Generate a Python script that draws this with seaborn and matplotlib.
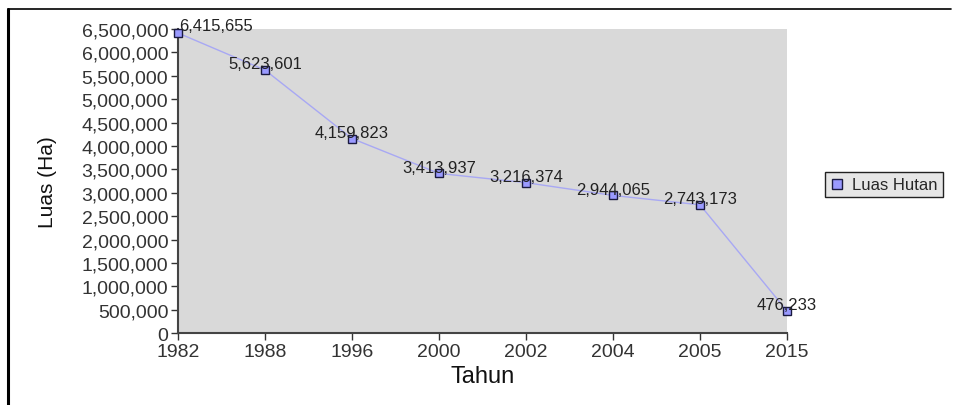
import matplotlib
matplotlib.use("Agg")
import matplotlib.pyplot as plt
import seaborn as sns
import pandas as pd
from matplotlib.lines import Line2D
from matplotlib.ticker import FuncFormatter, MultipleLocator

# data
years = ["1982", "1988", "1996", "2000", "2002", "2004", "2005", "2015"]
luas_hutan = [6415655, 5623601, 4159823, 3413937, 3216374, 2944065, 2743173, 476233]
series_name = "Luas Hutan"

df = pd.DataFrame({"Tahun": years, "Luas": luas_hutan, "Seri": series_name})

sns.set_style("white")
plt.rcParams["font.family"] = ["Liberation Sans", "DejaVu Sans"]

fig = plt.figure(figsize=(9.59, 4.06), dpi=100)
ax = fig.add_axes([0.1856, 0.177, 0.635, 0.749])
ax.set_facecolor("#d9d9d9")

sns.lineplot(data=df, x="Tahun", y="Luas", hue="Seri", sort=False,
             palette=["#a8a8f4"], linewidth=1, marker="s", markersize=6,
             markerfacecolor="#9a9aff", markeredgecolor="#1a1a40",
             markeredgewidth=1, ax=ax, legend=False, clip_on=False, zorder=3)

# value labels
for i, (yr, val) in enumerate(zip(years, luas_hutan)):
    txt = f"{val:,}"
    if i == 0:
        ax.annotate(txt, (i, val), xytext=(1, 0), textcoords="offset points",
                    ha="left", va="bottom", fontsize=12, color="#222222")
    else:
        ax.annotate(txt, (i, val), xytext=(0, -1), textcoords="offset points",
                    ha="center", va="bottom", fontsize=12, color="#222222")

ax.set_xlim(0, len(years) - 1)
ax.set_ylim(0, 6500000)
ax.yaxis.set_major_locator(MultipleLocator(500000))
ax.yaxis.set_major_formatter(FuncFormatter(lambda v, p: f"{int(v):,}"))

for side in ["top", "right"]:
    ax.spines[side].set_visible(False)
for side in ["left", "bottom"]:
    ax.spines[side].set_color("#444444")
    ax.spines[side].set_linewidth(1.5)

ax.tick_params(axis="both", which="major", direction="out", length=5,
               width=1, color="#333333", labelsize=14, labelcolor="#333333",
               left=True, bottom=True, pad=2)
ax.grid(False)

ax.set_xlabel("Tahun", fontsize=17, color="#111111", labelpad=4)
ax.set_ylabel("Luas (Ha)", fontsize=15, color="#111111", labelpad=18)

# legend
handle = Line2D([], [], linestyle="none", marker="s", markersize=7,
                markerfacecolor="#9a9aff", markeredgecolor="#1a1a40")
fig.legend([handle], [series_name], loc="center left",
           bbox_to_anchor=(0.852, 0.542), frameon=True, fancybox=False,
           edgecolor="#222222", facecolor="#e6e6e6", framealpha=1,
           fontsize=12, handlelength=0.8, handletextpad=0.5,
           borderpad=0.3)

# page frame lines around the chart
fig.add_artist(Line2D([0.0083, 0.0083], [0.0, 0.975], color="black",
                      linewidth=2.2, transform=fig.transFigure))
fig.add_artist(Line2D([0.0083, 0.992], [0.975, 0.975], color="black",
                      linewidth=1.2, transform=fig.transFigure))

fig.savefig("out.png", dpi=100)
